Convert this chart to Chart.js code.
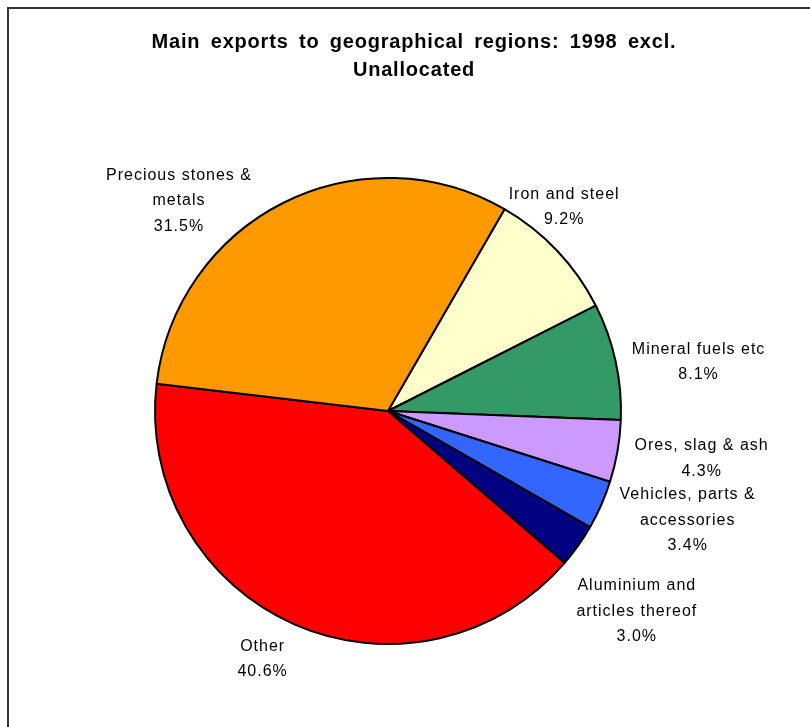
<!DOCTYPE html>
<html>
<head>
<meta charset="utf-8">
<script src="https://cdn.jsdelivr.net/npm/chart.js@4.4.1/dist/chart.umd.min.js"></script>
<style>
  body { margin: 0; background: #fff; }
  canvas { display: block; }
</style>
</head>
<body>
<canvas id="grafico" width="810" height="727"></canvas>
<script>
// slices in clockwise order, starting from Iron and steel
const categorias = [
  ["Iron and steel"],
  ["Mineral fuels etc"],
  ["Ores, slag & ash"],
  ["Vehicles, parts &", "accessories"],
  ["Aluminium and", "articles thereof"],
  ["Other"],
  ["Precious stones &", "metals"],
];
const valores = [9.2, 8.1, 4.3, 3.4, 3.0, 40.6, 31.5];
const cores = ["#FFFFCC", "#339966", "#CC99FF", "#3366FF", "#000080", "#FF0000", "#FF9900"];
const titulo = ["Main exports to geographical regions: 1998 excl.", "Unallocated"];

// label block centre, in units of the pie radius from its centre
const posRotulos = [
  [0.756, -0.876],
  [1.333, -0.209],
  [1.346, 0.205],
  [1.286, 0.47],
  [1.068, 0.859],
  [-0.538, 1.064],
  [-0.897, -0.902],
];

const moldura = {
  id: "moldura",
  beforeDraw(chart) {
    const c = chart.ctx;
    c.save();
    c.fillStyle = "#fff";
    c.fillRect(0, 0, chart.width, chart.height);
    c.strokeStyle = "#333";
    c.lineWidth = 2;
    c.strokeRect(8, 8, chart.width + 20, chart.height + 20);
    c.restore();
  },
  afterDraw(chart) {
    const c = chart.ctx;
    const arc = chart.getDatasetMeta(0).data[0];
    const cx = arc.x, cy = arc.y, r = arc.outerRadius;
    c.save();
    c.fillStyle = "#000";
    c.textAlign = "center";
    c.textBaseline = "middle";

    c.font = "bold 20px 'Liberation Sans', Arial, sans-serif";
    c.letterSpacing = "0.8px";
    c.wordSpacing = "4px";
    titulo.forEach(function (t, i) {
      c.fillText(t, 414, 42.5 + i * 27.5);
    });

    c.font = "16px 'Liberation Sans', Arial, sans-serif";
    c.letterSpacing = "1px";
    c.wordSpacing = "0px";
    const altura = 25.5;
    for (let i = 0; i < valores.length; i++) {
      const linhas = categorias[i].concat([valores[i].toFixed(1) + "%"]);
      const x = cx + posRotulos[i][0] * r;
      const y0 = cy + posRotulos[i][1] * r - (linhas.length - 1) * altura / 2;
      linhas.forEach(function (l, j) {
        c.fillText(l, x, y0 + j * altura);
      });
    }
    c.restore();
  },
};

const ctx = document.getElementById("grafico");

new Chart(ctx, {
  type: "pie",
  data: {
    labels: categorias.map(function (l) { return l.join(" "); }),
    datasets: [
      {
        data: valores,
        backgroundColor: cores,
        borderColor: "#000",
        borderWidth: 2,
      },
    ],
  },
  options: {
    responsive: false,
    animation: false,
    rotation: 30,
    layout: {
      padding: { left: 154, right: 188, top: 177, bottom: 82 },
    },
    plugins: {
      legend: { display: false },
      tooltip: { enabled: false },
    },
  },
  plugins: [moldura],
});
</script>
</body>
</html>
